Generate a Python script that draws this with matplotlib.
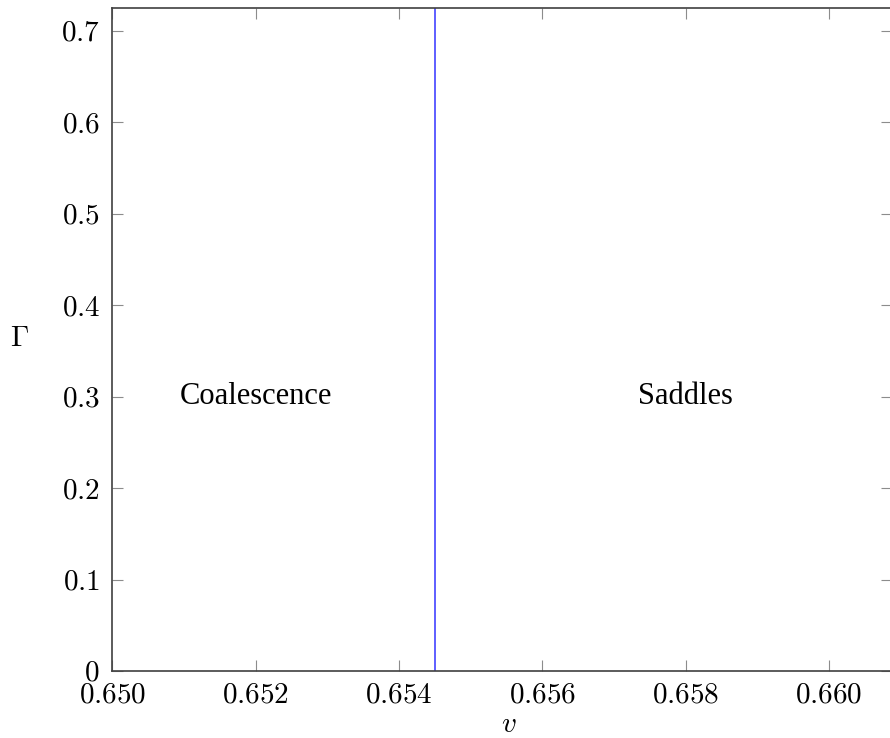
import matplotlib
matplotlib.use("Agg")
import matplotlib.pyplot as plt

plt.rcParams['mathtext.fontset'] = 'cm'
plt.rcParams['font.family'] = ['Liberation Serif', 'DejaVu Serif']

# boundary between the two regimes
v_boundary = 0.6545
gamma_range = [0.0, 0.725]

x_ticks = [0.650, 0.652, 0.654, 0.656, 0.658, 0.660]
x_labels = ['0.650', '0.652', '0.654', '0.656', '0.658', '0.660']
y_ticks = [0, 0.1, 0.2, 0.3, 0.4, 0.5, 0.6, 0.7]
y_labels = ['0', '0.1', '0.2', '0.3', '0.4', '0.5', '0.6', '0.7']

regions = ['Coalescence', 'Saddles']
region_v = [0.652, 0.658]
region_gamma = [0.3, 0.3]

fig = plt.figure(figsize=(8.9, 7.38), dpi=100)
ax = fig.add_axes([0.1262, 0.0908, 0.876, 0.8984])

ax.plot([v_boundary, v_boundary], gamma_range, color='#3333ff', linewidth=1.1)

for name, xv, yv in zip(regions, region_v, region_gamma):
    ax.text(xv, yv, name, fontsize=22, ha='center', va='center')

ax.set_xlim(0.650, 0.66088)
ax.set_ylim(gamma_range)

ax.set_xticks(x_ticks)
ax.set_xticklabels(['$' + s + '$' for s in x_labels])
ax.set_yticks(y_ticks)
ax.set_yticklabels(['$' + s + '$' for s in y_labels])

ax.tick_params(direction='in', length=8, width=0.8, color='0.55',
               top=True, right=True, labelsize=21)
ax.tick_params(axis='x', pad=8)
ax.tick_params(axis='y', pad=9)

for s in ax.spines.values():
    s.set_color('0.25')
    s.set_linewidth(1.2)

ax.set_xlabel('$v$', fontsize=21, va='baseline')
ax.set_ylabel(r'$\Gamma$', fontsize=21, rotation=0, ha='center', va='center')
ax.xaxis.set_label_coords(0.508, -0.092)
ax.yaxis.set_label_coords(-0.1186, 0.50)

fig.savefig('out.png', dpi=100)
